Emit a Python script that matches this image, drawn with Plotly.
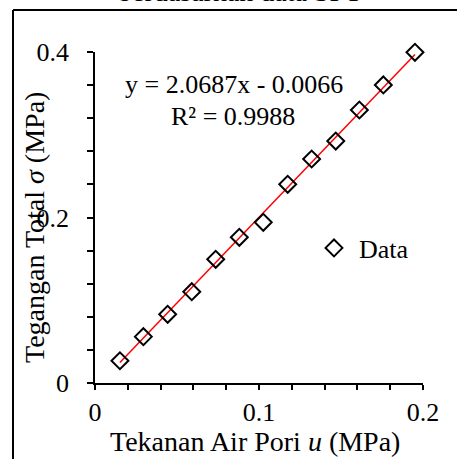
import plotly.graph_objects as go

# Data
u_mpa = [0.0152, 0.0295, 0.0443, 0.0590, 0.0736, 0.0880, 0.1026, 0.1175,
         0.1321, 0.1468, 0.1612, 0.1758, 0.1951]
sigma_mpa = [0.0269, 0.0560, 0.0830, 0.1103, 0.1495, 0.1761, 0.1942, 0.2401,
             0.2707, 0.2924, 0.3299, 0.3602, 0.3996]

# Trendline coefficients as printed on the chart
slope = 2.0687
intercept = -0.0066
r2 = 0.9988

x_tickvals = [0, 0.02, 0.04, 0.06, 0.08, 0.1, 0.12, 0.14, 0.16, 0.18, 0.2]
x_ticktext = ["0", "", "", "", "", "0.1", "", "", "", "", "0.2"]
y_tickvals = [0, 0.04, 0.08, 0.12, 0.16, 0.2, 0.24, 0.28, 0.32, 0.36, 0.4]
y_ticktext = ["0", "", "", "", "", "0.2", "", "", "", "", "0.4"]

FONT = "Liberation Serif"
FS = 26
TFS = 28

W, H = 457, 459
L, R, T, B = 95, 34, 52, 76
PW, PH = W - L - R, H - T - B


def px(xp):
    return (xp - L) / PW


def py(yp):
    return (H - B - yp) / PH


def f(size):
    return dict(family=FONT, size=size, color="black")


trend_x = [min(u_mpa), max(u_mpa)]
trend_y = [slope * v + intercept for v in trend_x]

fig = go.Figure()
fig.add_trace(go.Scatter(
    x=trend_x, y=trend_y, mode="lines", cliponaxis=False,
    line=dict(color="#ff0000", width=1.5), showlegend=False, hoverinfo="skip"))
fig.add_trace(go.Scatter(
    x=u_mpa, y=sigma_mpa, mode="markers", name="Data", cliponaxis=False,
    marker=dict(symbol="diamond-open", size=13, color="black",
                line=dict(color="black", width=2))))

fig.update_layout(
    width=W, height=H,
    margin=dict(l=L, r=R, t=T, b=B, pad=0),
    paper_bgcolor="white", plot_bgcolor="white",
    font=f(FS),
    showlegend=True,
    legend=dict(x=px(309), y=py(248), xanchor="left", yanchor="middle",
                bgcolor="rgba(0,0,0,0)", font=f(FS),
                itemwidth=40),
    xaxis=dict(range=[0, 0.2], tickvals=x_tickvals, ticktext=x_ticktext,
               ticks="outside", ticklen=5, tickwidth=1.5, tickcolor="black",
               showline=True, linecolor="black", linewidth=1.5,
               showgrid=False, zeroline=False, fixedrange=True,
               tickfont=f(FS)),
    yaxis=dict(range=[0, 0.4], tickvals=y_tickvals, ticktext=y_ticktext,
               ticks="outside", ticklen=6, tickwidth=1.5, tickcolor="black",
               showline=True, linecolor="black", linewidth=1.5,
               showgrid=False, zeroline=False, fixedrange=True,
               tickfont=f(FS), ticklabelstandoff=13),
    annotations=[
        dict(text="y = 2.0687x - 0.0066", x=px(234), y=py(85), xref="paper",
             yref="paper", showarrow=False, font=f(FS),
             xanchor="center", yanchor="middle"),
        dict(text="R² = 0.9988", x=px(233), y=py(116), xref="paper",
             yref="paper", showarrow=False, font=f(FS),
             xanchor="center", yanchor="middle"),
        dict(text="Tekanan Air Pori <i>u</i> (MPa)", x=px(255), y=py(441),
             xref="paper", yref="paper", showarrow=False, font=f(TFS),
             xanchor="center", yanchor="middle"),
        dict(text="Tegangan Total <i>σ</i> (MPa)", x=px(34), y=py(228),
             xref="paper", yref="paper", showarrow=False, textangle=-90,
             font=f(TFS), xanchor="center", yanchor="middle"),
        dict(text="berdasarkan data SPT", x=px(240), y=py(8.6),
             xref="paper", yref="paper", showarrow=False, yanchor="bottom",
             xanchor="center", font=f(TFS)),
    ],
    shapes=[
        dict(type="line", xref="paper", yref="paper", x0=px(13), x1=px(13),
             y0=py(10), y1=py(470), line=dict(color="black", width=2)),
        dict(type="line", xref="paper", yref="paper", x0=px(13), x1=px(470),
             y0=py(10), y1=py(10), line=dict(color="black", width=2)),
    ],
)

fig.write_html("out.html")
